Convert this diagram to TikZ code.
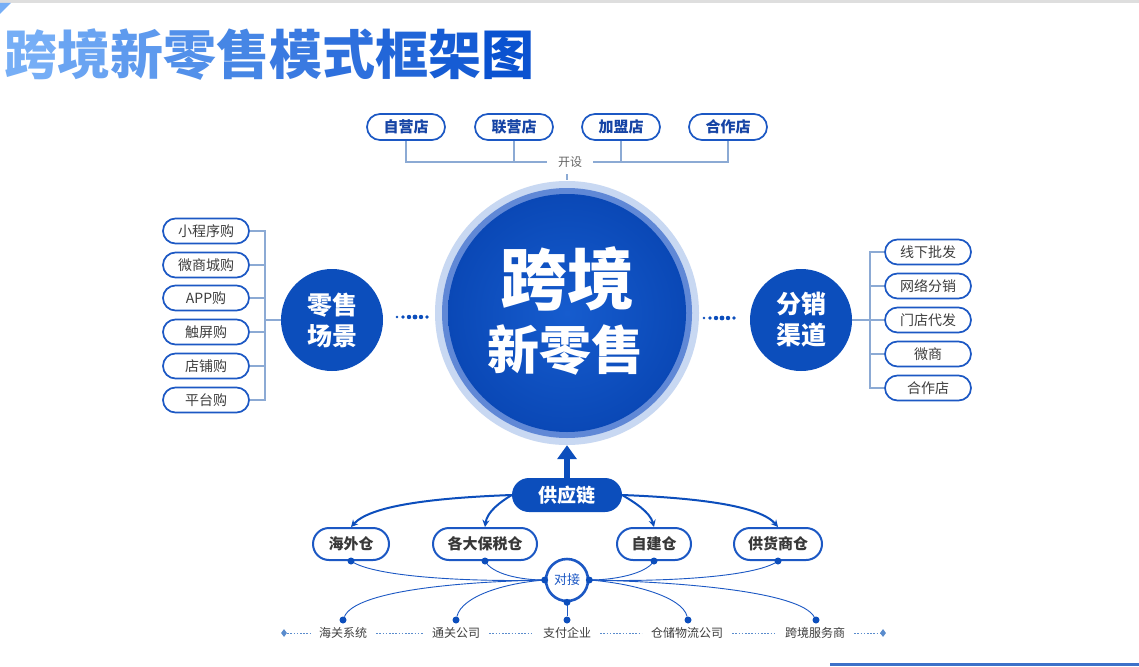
\documentclass[tikz,border=0pt]{standalone}
\usepackage{fontspec}
\setmainfont{Noto Sans CJK SC}
\usetikzlibrary{arrows.meta,shapes.geometric,calc}
\definecolor{dblue}{RGB}{12,78,188}
\definecolor{cin}{RGB}{22,92,206}
\definecolor{cout}{RGB}{10,72,182}
\definecolor{pillc}{RGB}{28,88,196}
\definecolor{halo}{RGB}{200,216,242}
\definecolor{ringc}{RGB}{96,136,214}
\definecolor{linec}{RGB}{140,170,212}
\definecolor{txtc}{RGB}{62,62,62}
\definecolor{navy}{RGB}{22,68,165}
\definecolor{dashc}{RGB}{90,140,205}
\definecolor{tL}{RGB}{118,174,246}
\definecolor{tR}{RGB}{10,82,208}
\definecolor{topbar}{RGB}{222,222,222}
\tikzset{
  pill/.style={draw=pillc, line width=1.7pt, rounded corners=12.5pt, minimum width=86pt, minimum height=25pt, fill=white, inner sep=0pt, font=\fontsize{14}{14}\selectfont, text=txtc},
  toppill/.style={pill, minimum width=78pt, minimum height=26pt, rounded corners=13pt, font=\fontsize{15}{15}\selectfont\bfseries, text=navy},
  whpill/.style={pill, minimum height=32pt, rounded corners=16pt, line width=2pt, font=\fontsize{15}{15}\selectfont\bfseries, text=txtc!90!black},
  hub/.style={circle, fill=dblue, minimum size=102pt, inner sep=0pt, text=white, align=center, font=\fontsize{25}{31}\selectfont\bfseries},
  bracket/.style={draw=linec, line width=1.3pt},
  sarr/.style={draw=dblue, line width=2pt, -{Stealth[length=7pt,width=7pt]}},
  thinc/.style={draw=pillc, line width=0.9pt},
  bdot/.style={circle, fill=dblue, inner sep=0pt, minimum size=7pt},
  blabel/.style={font=\fontsize{12}{12}\selectfont, text=txtc, inner sep=1pt},
  dline/.style={draw=dashc, line width=0.9pt, dash pattern=on 1.6pt off 1.6pt},
}
\begin{document}
\begin{tikzpicture}[x=1pt,y=-1pt]
\useasboundingbox (0,0) rectangle (1139,666);
\fill[white] (0,0) rectangle (1139,666);
% decorations
\fill[topbar] (0,0) rectangle (1139,3);
\fill[tL] (0,3) -- (11,3) -- (0,14) -- cycle;
\fill[dblue!80] (830,663) rectangle (1139,666);
% title
\node[anchor=west, inner sep=0pt, font=\fontsize{53}{53}\selectfont\bfseries] (title) at (4,55)
 {\textcolor{tR!0!tL}{跨}\textcolor{tR!11!tL}{境}\textcolor{tR!22!tL}{新}\textcolor{tR!33!tL}{零}\textcolor{tR!44!tL}{售}\textcolor{tR!56!tL}{模}\textcolor{tR!67!tL}{式}\textcolor{tR!78!tL}{框}\textcolor{tR!89!tL}{架}\textcolor{tR!100!tL}{图}};

% central circle
\fill[halo] (567,313) circle (132);
\fill[ringc] (567,313) circle (125);
\shade[inner color=cin, outer color=cout] (567,313) circle (119);
\node[circle, minimum size=264pt, inner sep=0pt] (c) at (567,313) {};
\node[font=\fontsize{67}{67}\selectfont\bfseries, text=white] (ct1) at (567.5,279) {跨境};
\node[font=\fontsize{52}{52}\selectfont\bfseries, text=white] (ct2) at (565,350) {新零售};

% top stores
\node[toppill] (s1) at (406,127) {自营店};
\node[toppill] (s2) at (514,127) {联营店};
\node[toppill] (s3) at (621,127) {加盟店};
\node[toppill] (s4) at (728,127) {合作店};
\node[font=\fontsize{12}{12}\selectfont, text=txtc!80, inner sep=2pt, minimum width=46pt] (ks) at (570,162) {开设};
\coordinate (kx) at (0,162);
\draw[bracket] (s1.south) -- (s1.south |- kx) -- (ks.west);
\draw[bracket] (s2.south) -- (s2.south |- kx);
\draw[bracket] (s3.south) -- (s3.south |- kx);
\draw[bracket] (ks.east) -- (s4.south |- kx) -- (s4.south);
\draw[bracket, line width=1.2pt] (c.north) ++(0,-1) -- ++(0,-6);

% left hub
\node[hub] (ls) at (332,320) {零售\\场景};
\node[pill] (l1) at (206,231) {小程序购};
\node[pill] (l2) at (206,265) {微商城购};
\node[pill] (l3) at (206,298) {APP购};
\node[pill] (l4) at (206,332) {触屏购};
\node[pill] (l5) at (206,366) {店铺购};
\node[pill] (l6) at (206,400) {平台购};
\coordinate (lb) at (265,0);
\draw[bracket] (l1.east) -- (l1.east -| lb) -- (l6.east -| lb) -- (l6.east);
\foreach \i in {2,3,4,5} \draw[bracket] (l\i.east) -- (l\i.east -| lb);
\draw[bracket] (ls.west) -- (ls.west -| lb);

% right hub
\node[hub] (rs) at (801,320) {分销\\渠道};
\node[pill] (r1) at (928,252) {线下批发};
\node[pill] (r2) at (928,286) {网络分销};
\node[pill] (r3) at (928,320) {门店代发};
\node[pill] (r4) at (928,354) {微商};
\node[pill] (r5) at (928,388) {合作店};
\coordinate (rb) at (870,0);
\draw[bracket] (r1.west) -- (r1.west -| rb) -- (r5.west -| rb) -- (r5.west);
\foreach \i in {2,3,4} \draw[bracket] (r\i.west) -- (r\i.west -| rb);
\draw[bracket] (rs.east) -- (rs.east -| rb);

% dotted links
\foreach \x/\r in {0/1.4,6/1.8,12/2.2,18/2.4,24/2.2,30/1.8} {
  \fill[dblue] (397+\x,317) circle (\r);
  \fill[dblue] (704+\x,318) circle (\r);
}

% supply chain
\node[draw=none, fill=dblue, rounded corners=17pt, minimum width=110pt, minimum height=34pt, text=white, font=\fontsize{19}{19}\selectfont\bfseries] (sc) at (567,495) {供应链};
\draw[dblue, line width=6pt, -{Triangle[length=14pt,width=19pt]}] (sc.north) -- (c.south);

\node[whpill, minimum width=76pt] (w1) at (351,544) {海外仓};
\node[whpill, minimum width=104pt] (w2) at (485,544) {各大保税仓};
\node[whpill, minimum width=74pt] (w3) at (654,544) {自建仓};
\node[whpill, minimum width=88pt] (w4) at (778,544) {供货商仓};

\draw[sarr] (sc.west) .. controls (430,498) and (370,506) .. (w1.north);
\draw[sarr] (sc.west) .. controls (500,502) and (487,512) .. (w2.north);
\draw[sarr] (sc.east) .. controls (634,502) and (650,512) .. (w3.north);
\draw[sarr] (sc.east) .. controls (700,498) and (760,506) .. (w4.north);

% docking circle
\node[circle, draw=pillc, line width=2.6pt, fill=white, minimum size=42pt, inner sep=0pt, text=pillc, font=\fontsize{13}{13}\selectfont] (dj) at (567,580) {对接};

% bottom labels
\node[blabel] (b1) at (343,633) {海关系统};
\node[blabel] (b2) at (456,633) {通关公司};
\node[blabel] (b3) at (567,633) {支付企业};
\node[blabel] (b4) at (687,633) {仓储物流公司};
\node[blabel] (b5) at (815,633) {跨境服务商};
\coordinate (eL) at (284,633);
\coordinate (eR) at (883,633);
\node[diamond, fill=dashc, inner sep=0pt, minimum width=6pt, minimum height=8pt] at (eL) {};
\node[diamond, fill=dashc, inner sep=0pt, minimum width=6pt, minimum height=8pt] at (eR) {};
\draw[dline] (eL) -- ([xshift=-8pt]b1.west);
\draw[dline] ([xshift=8pt]b1.east) -- ([xshift=-8pt]b2.west);
\draw[dline] ([xshift=8pt]b2.east) -- ([xshift=-8pt]b3.west);
\draw[dline] ([xshift=8pt]b3.east) -- ([xshift=-8pt]b4.west);
\draw[dline] ([xshift=8pt]b4.east) -- ([xshift=-8pt]b5.west);
\draw[dline] ([xshift=8pt]b5.east) -- (eR);

\node[bdot] (d1) at (343,620) {};
\node[bdot] (d2) at (456,620) {};
\node[bdot] (d3) at (567,620) {};
\node[bdot] (d4) at (688,620) {};
\node[bdot] (d5) at (816,620) {};

% curves from docking circle
\draw[thinc] (w1.south) .. controls (375,578) and (480,582) .. (dj.west);
\draw[thinc] (w2.south) .. controls (492,574) and (520,580) .. (dj.west);
\draw[thinc] (dj.west) .. controls (450,582) and (355,592) .. (d1);
\draw[thinc] (dj.west) .. controls (505,583) and (462,596) .. (d2);
\draw[thinc] (dj.south) -- (d3);
\draw[thinc] (w3.south) .. controls (646,574) and (614,580) .. (dj.east);
\draw[thinc] (w4.south) .. controls (755,578) and (654,582) .. (dj.east);
\draw[thinc] (dj.east) .. controls (630,583) and (682,596) .. (d4);
\draw[thinc] (dj.east) .. controls (685,582) and (800,592) .. (d5);

\node[bdot] at (w1.south) {};
\node[bdot] at (w2.south) {};
\node[bdot] at (w3.south) {};
\node[bdot] at (w4.south) {};
\node[bdot] at (dj.west) {};
\node[bdot] at (dj.east) {};
\node[bdot] at (dj.south) {};
\end{tikzpicture}
\end{document}
